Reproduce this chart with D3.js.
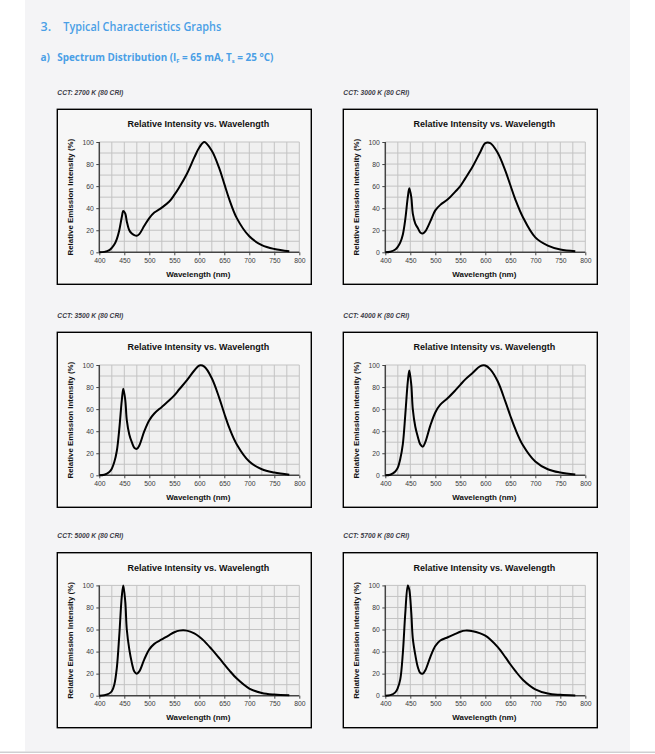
<!DOCTYPE html>
<html><head><meta charset="utf-8">
<script src="https://cdn.jsdelivr.net/npm/d3@7"></script>
<style>html,body{margin:0;padding:0;background:#fff;}svg{display:block;}</style>
</head><body>
<script>
// ---- data ----
const wavelengths = [400,410,420,425,430,435,440,445,448,452,455,460,465,470,475,480,490,500,510,525,540,550,560,575,590,600,610,625,640,650,660,675,700,725,750,780];
const cct2700 = [0,0.4,2,4,7,12,20,32,37.5,35,28,20,17,15.5,15,16.5,24,31,36,40.5,46,52,59,71,86,95,100,92,76,62,48,31,14.5,6.5,3,1];
const cct3000 = [0,0.5,2.5,5,9,16,30,50,58,50,35,26,22,18,17,19,28,38,43,48,55,60,67,78,91,99,99,90,74,61,48,32,13.5,6,2.5,1];
const cct3500 = [0,0.5,3,6,12,22,42,68,78.5,68,50,37,30,25,24,27,40,50,56,62,68,72.5,78,86,95,99.5,98.5,88,70,56,43,28,12.5,5.5,2.5,0.5];
const cct4000 = [0,0.5,3.5,7,15,28,55,85,95,82,60,44,35,28,26,30,45,57,64,70,77,82,87,93,99,99.5,96,85,67,54,42,27.5,12.5,5.5,2.5,0.7];
const cct5000 = [0,0.5,2,4,10,25,55,90,100,85,60,42,30,22,20,22,33,42,47,51,55,57.5,59,59,56.5,53.5,49.5,42,34,28.5,23,15.5,6.5,2.5,1,0.3];
const cct5700 = [0,0.5,3,7,15,38,75,100,96,75,52,37,26,20.5,20,23,35,45,50,53,56,58,59,58.5,56.5,54.5,51,44,35,28.5,22.5,14.5,5.8,2,0.8,0.2];
const seriesList = [cct2700, cct3000, cct3500, cct4000, cct5000, cct5700];
const chartLabels = ["CCT: 2700 K (80 CRI)","CCT: 3000 K (80 CRI)","CCT: 3500 K (80 CRI)","CCT: 4000 K (80 CRI)","CCT: 5000 K (80 CRI)","CCT: 5700 K (80 CRI)"];
const xTicks = [400,450,500,550,600,650,700,750,800];
const yTicks = [0,20,40,60,80,100];
const xGrid = [425,450,475,500,525,550,575,600,625,650,675,700,725,750,775];
const yGrid = [10,20,30,40,50,60,70,80,90,100];
const chartTitle = "Relative Intensity vs. Wavelength";
const xTitle = "Wavelength (nm)";
const yTitle = "Relative Emission Intensity (%)";

// ---- layout ----
const W = 655, H = 754;
const svg = d3.select("body").append("svg").attr("width", W).attr("height", H);
svg.append("rect").attr("x",0).attr("y",0).attr("width",W).attr("height",H).attr("fill","#fff");
svg.append("rect").attr("x",25).attr("y",0).attr("width",605).attr("height",751.5).attr("fill","#f4f4f6");
svg.append("line").attr("x1",0).attr("x2",W).attr("y1",752.2).attr("y2",752.2).attr("stroke","#cfcfd2").attr("stroke-width",1.5);

const blue = "#4a9fe6";
svg.append("text").attr("x",40.5).attr("y",30.8).attr("fill",blue)
  .attr("font-family","'Open Sans','Noto Sans',sans-serif").attr("font-size",12.5).attr("font-weight",600).text("3.");
svg.append("text").attr("x",63.3).attr("y",30.8).attr("fill",blue)
  .attr("font-family","'Open Sans','Noto Sans',sans-serif").attr("font-size",12.5).attr("font-weight",600)
  .attr("textLength",158).attr("lengthAdjust","spacingAndGlyphs").text("Typical Characteristics Graphs");
svg.append("text").attr("x",40.5).attr("y",61.3).attr("fill",blue)
  .attr("font-family","'Open Sans','Noto Sans',sans-serif").attr("font-size",10).attr("font-weight",700).text("a)");
const sub = svg.append("text").attr("x",57.3).attr("y",61.3).attr("fill",blue)
  .attr("font-family","'Open Sans','Noto Sans',sans-serif").attr("font-size",10).attr("font-weight",700)
  .attr("textLength",216).attr("lengthAdjust","spacingAndGlyphs");
sub.append("tspan").text("Spectrum Distribution (I");
sub.append("tspan").attr("font-size",6).attr("dy",1.5).text("F");
sub.append("tspan").attr("dy",-1.5).text(" = 65 mA, T");
sub.append("tspan").attr("font-size",6).attr("dy",1.5).text("s");
sub.append("tspan").attr("dy",-1.5).text(" = 25 °C)");

const colX = [57.3, 343.3];
const rowY = [109.3, 332.3, 552.7];
const frameW = 254, frameH = 175;
const plotL = 42, plotT = 32.7, plotW = 200, plotH = 110.3;
const font = "'Liberation Sans', Arial, sans-serif";

seriesList.forEach((vals, i) => {
  const fx = colX[i % 2], fy = rowY[Math.floor(i / 2)];
  const g = svg.append("g").attr("transform", `translate(${fx},${fy})`);
  g.append("text").attr("x",0).attr("y",-14.7).attr("font-family",font).attr("font-size",6.8)
    .attr("font-weight",700).attr("font-style","italic").attr("fill","#3c3c48")
    .attr("textLength",66).attr("lengthAdjust","spacingAndGlyphs").text(chartLabels[i]);
  g.append("rect").attr("x",0).attr("y",0).attr("width",frameW).attr("height",frameH)
    .attr("fill","#f7f7f7").attr("stroke","#000").attr("stroke-width",1.4);
  g.append("text").attr("x",plotL + plotW/2 - 1).attr("y",18.2).attr("text-anchor","middle")
    .attr("font-family",font).attr("font-size",9).attr("font-weight",700).attr("fill","#111").text(chartTitle);

  const x = d3.scaleLinear().domain([400,800]).range([0, plotW]);
  const y = d3.scaleLinear().domain([0,100]).range([plotH, 0]);
  const p = g.append("g").attr("transform", `translate(${plotL},${plotT})`);
  p.append("rect").attr("x",0).attr("y",0).attr("width",plotW).attr("height",plotH).attr("fill","#f0f0f0");
  p.selectAll(".vg").data(xGrid).join("line")
    .attr("x1",d=>x(d)).attr("x2",d=>x(d)).attr("y1",0).attr("y2",plotH)
    .attr("stroke","#c3c3c3").attr("stroke-width",1);
  p.selectAll(".hg").data(yGrid).join("line")
    .attr("x1",0).attr("x2",plotW).attr("y1",d=>y(d)).attr("y2",d=>y(d))
    .attr("stroke","#c3c3c3").attr("stroke-width",1);
  p.append("line").attr("x1",plotW).attr("x2",plotW).attr("y1",0).attr("y2",plotH).attr("stroke","#c3c3c3");

  const xAxis = d3.axisBottom(x).tickValues(xTicks).tickSize(3).tickPadding(2.5).tickFormat(d3.format("d"));
  const yAxis = d3.axisLeft(y).tickValues(yTicks).tickSize(3).tickPadding(2.5).tickFormat(d3.format("d"));
  const ax = p.append("g").attr("transform", `translate(0,${plotH})`).call(xAxis);
  const ay = p.append("g").call(yAxis);
  [ax, ay].forEach(a => {
    a.select(".domain").attr("stroke","#444").attr("stroke-width",1.5);
    a.selectAll(".tick line").attr("stroke","#444");
    a.selectAll(".tick text").attr("font-family",font).attr("font-size",6.8).attr("fill","#3a3a3a");
  });
  ax.select(".domain").attr("d", `M0,0H${plotW}`);
  ay.select(".domain").attr("d", `M0,${plotH}V0`);

  const line = d3.line().x((d, k) => x(wavelengths[k])).y(d => y(Math.max(0, d))).curve(d3.curveCatmullRom.alpha(0.5));
  p.append("path").datum(vals).attr("d", line).attr("fill","none").attr("stroke","#000").attr("stroke-width",2)
    .attr("stroke-linejoin","round");

  g.append("text").attr("x",plotL + plotW/2 - 1).attr("y",plotT + plotH + 24.5).attr("text-anchor","middle")
    .attr("font-family",font).attr("font-size",8).attr("font-weight",700).attr("fill","#111").text(xTitle);
  g.append("text").attr("transform",`translate(15.5,${plotT + plotH/2}) rotate(-90)`).attr("text-anchor","middle")
    .attr("font-family",font).attr("font-size",7.9).attr("font-weight",700).attr("fill","#111").text(yTitle);
});
</script>
</body></html>
